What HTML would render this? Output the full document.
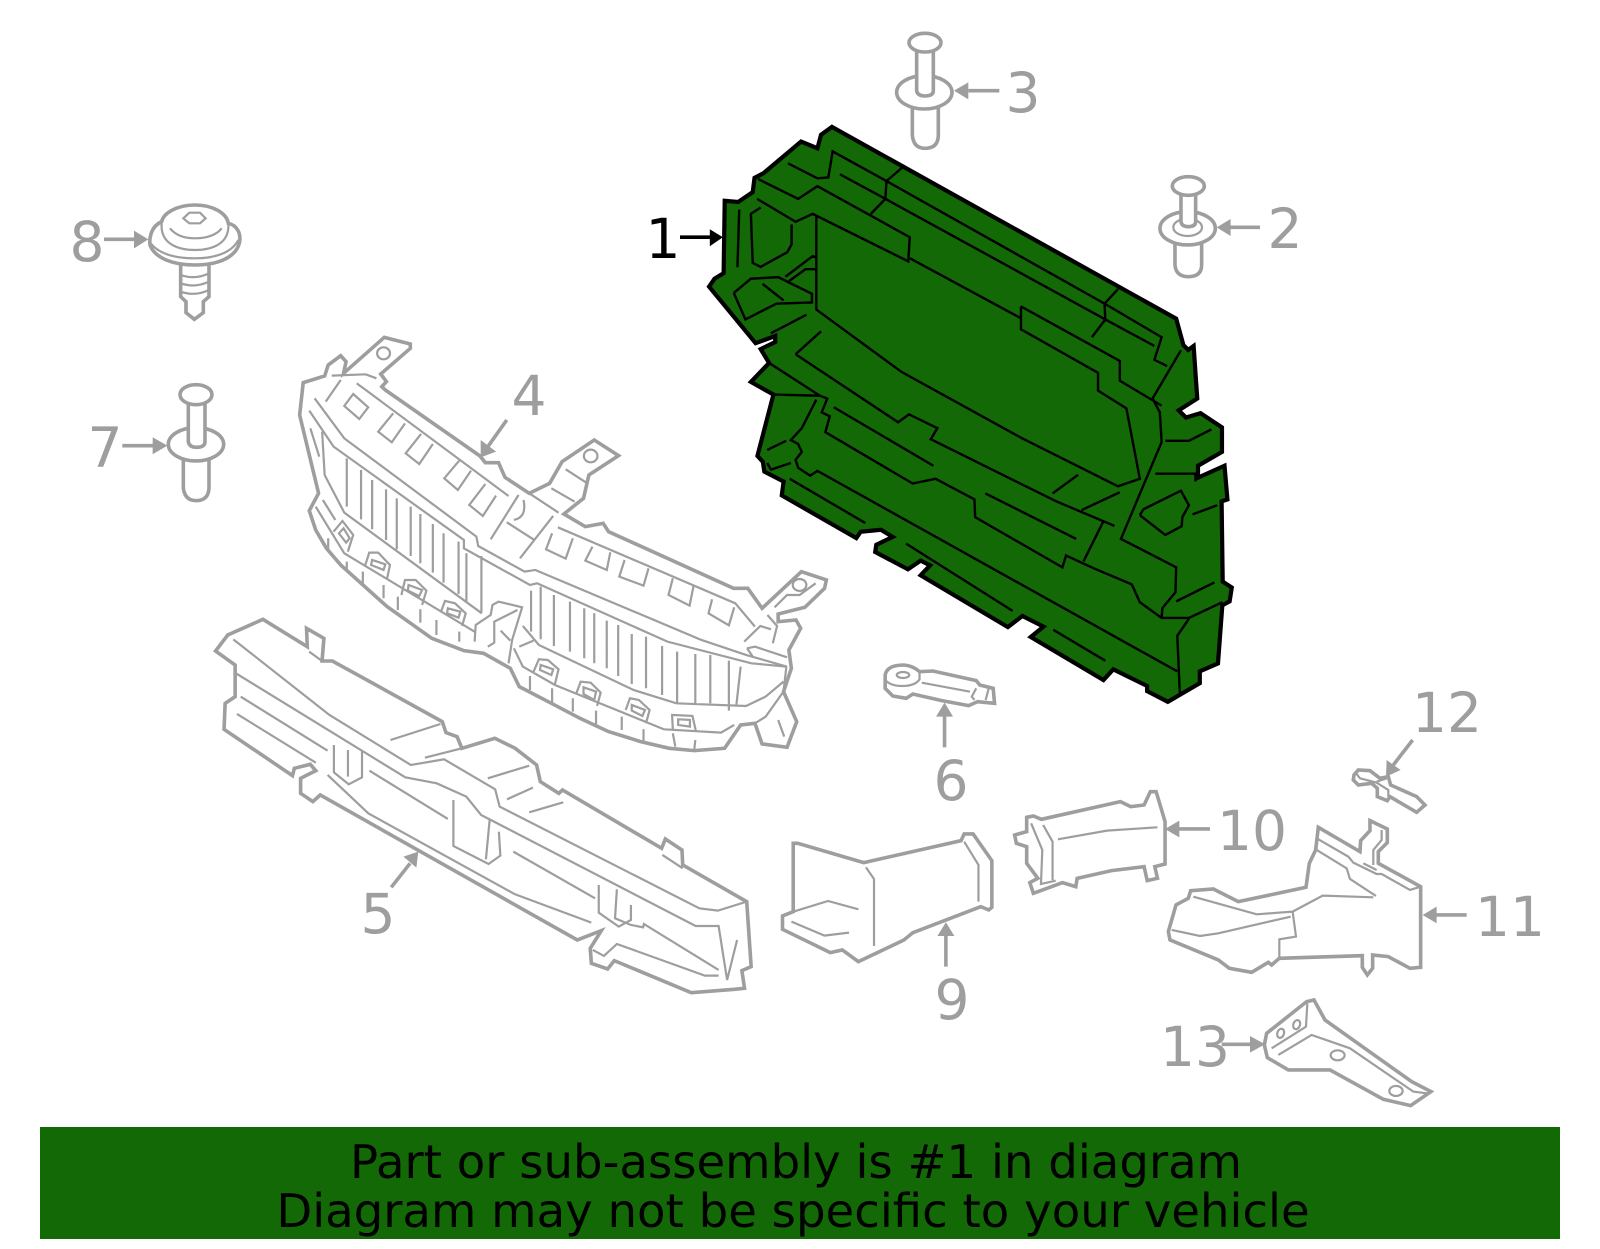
<!DOCTYPE html>
<html><head><meta charset="utf-8"><style>
html,body{margin:0;padding:0;background:#fff}
svg{display:block}
path,ellipse,circle{vector-effect:non-scaling-stroke;stroke-linejoin:miter}
.o{fill:#fff;stroke:#9e9e9e;stroke-width:3.6}
.i{fill:none;stroke:#9e9e9e;stroke-width:2.2}
.l{fill:none;stroke:#9e9e9e;stroke-width:3.6}
.h{fill:#9e9e9e;stroke:none}
.G{fill:#126905;stroke:#000;stroke-width:4.2}
.k{fill:none;stroke:#000;stroke-width:2.4}
text{font-family:"DejaVu Sans","Liberation Sans",sans-serif}
.t{font-size:55px;fill:#9e9e9e;text-anchor:middle}
.b{font-size:46.6px;fill:#000;text-anchor:middle}
</style></head><body>
<svg width="1600" height="1249" viewBox="0 0 1600 1249" xmlns="http://www.w3.org/2000/svg">
<rect width="1600" height="1249" fill="#fff"/>

<!-- Part 1 -->
<g transform="translate(680,100) scale(.3635,.3954)">
<path class="G" d="M418,68L1365,553L1385,620L1398,632L1413,622L1423,755L1372,785L1392,803L1432,792L1491,828L1491,890L1425,925L1425,955L1498,925L1506,1010L1490,1015L1493,1218L1518,1233L1512,1268L1492,1278L1480,1425L1430,1445L1430,1475L1342,1522L1285,1495L1285,1482L1192,1440L1165,1467L965,1358L1000,1332L942,1305L902,1333L662,1202L688,1177L662,1165L627,1187L537,1143L540,1125L585,1105L553,1087L497,1092L485,1108L280,1000L285,965L232,940L228,915L213,900L257,745L195,713L245,665L222,630L262,612L262,597L208,615L80,472L95,452L120,438L123,255L160,258L200,233L205,197L230,185L333,105L378,122L388,88Z"/>
<path class="k" d="M297,160L378,198L408,196L420,130L568,205L610,172M568,205L565,250L525,288M440,188L565,250M215,200L325,250L378,218L632,347L628,408L365,288L318,308L212,250M568,205L1168,515L1205,478M1168,515L1170,555L1133,600M565,250L1170,555L1305,622M1168,515L1325,600L1305,657L1340,673M632,400L938,552M938,522L1210,660L1210,710L1325,773M938,522L938,580L1150,690L1150,735L1228,780L1265,958L1205,977L940,855L610,688L375,530L375,295M222,272L195,288L200,412L222,422L295,385L307,365L307,315M163,277L158,423M290,447L365,395L378,400M300,458L345,428L375,428L375,530M148,488L195,452L270,448L363,490L363,512L265,515L180,555L148,488M227,465L285,507M250,590L348,543M318,643L388,585M318,643L600,815L630,795L708,830L690,858L1035,1015L1195,1077M245,665L385,748L257,745M385,748L405,755L390,790L412,800L400,840L640,970L703,958L810,1010L812,1055L1052,1182L1062,1152L1140,1185L1243,1225L1265,1270L1325,1310L1400,1310L1492,1270M423,777L697,925M375,758L335,830L305,860L325,870L335,890L318,910L325,930L358,950L378,938L1368,1445M240,885L292,862M240,918L250,935L305,918M302,958L510,1070M622,1122L915,1292M1027,1340L1170,1418M840,995L1090,1110M1025,995L1095,948M1105,1037L1210,992M1165,1065L1110,1167M1378,633L1300,755L1320,790L1325,865L1213,1110L1365,1182L1363,1245L1327,1285L1325,1310M1365,1268L1470,1220M1335,862L1400,862L1462,833M1308,945L1418,945L1418,965M1410,1048L1478,1025M1265,1050L1275,1035L1378,988L1400,1025L1382,1055L1380,1078L1335,1100L1265,1050M1400,1312L1368,1355L1375,1500"/>
<path d="M0,347L85,347" fill="none" stroke="#000" stroke-width="3.6"/>
<path d="M118,347L82,327L82,370Z" fill="#000"/>
</g>

<!-- Part 4 -->
<g transform="translate(280,320) scale(.3571,.3333)">
<path class="o" d="M295,210L560,408L575,428L612,428L630,472L698,520L755,490L790,425L880,360L948,407L865,465L850,535L795,582L855,620L905,610L920,635L1270,805L1310,805L1350,865L1460,755L1530,780L1525,805L1470,862L1395,882L1395,905L1445,900L1458,925L1425,990L1432,1045L1410,1115L1447,1205L1420,1282L1350,1272L1330,1210L1290,1215L1245,1285L1160,1292L1090,1285L1010,1265L920,1235L840,1195L760,1150L670,1100L645,1045L570,1000L515,992L425,955L300,860L170,735L130,685L100,630L82,572L108,520L55,285L65,188L125,168L135,135L170,107L185,125L178,160L292,52L365,72L365,85L282,162L298,185L285,200Z"/>
<path class="i" d="M145,167L240,163L270,175M170,180L128,245M215,190L640,528M97,235L180,355L550,650L555,678L685,755L715,750L1180,960L1305,1005L1420,1040M82,272L150,380L515,660L515,685L700,795L720,790L1085,965L1320,1030L1418,1040M85,325L110,410M118,335L125,465L180,578L565,880M100,560L180,700L545,935M120,540L155,600M187,415V560M227,450V598M258,480V628M297,508V660M327,535V688M366,560V708M393,582V730M428,612V758M458,640V788M500,665V822M522,700V845M564,708V880M205,222L247,262L222,297L180,258ZM317,280L275,335L313,367L350,310M395,342L352,400L390,432L428,372M505,418L460,475L498,510L535,452M575,492L530,555L568,588L605,527M668,525L590,658M765,588L672,715M635,607L712,660M682,540Q692,592 655,600M800,448L858,488M760,505L825,545M698,520L780,578M778,622L1275,850L1330,920M762,640L745,688L800,716L820,655M875,680L855,722L915,750L925,697M965,720L950,770L1018,797L1032,745M1100,775L1088,825L1147,857L1158,798M1210,838L1200,880L1257,916L1272,862M545,965L548,915L590,885L595,855L612,845L678,862L650,960L640,1030M582,980L600,968L600,905L665,870M618,932L645,962M670,980L710,962M680,918L725,975L990,1110L1110,1150L1305,1158L1360,1130L1410,1085M655,985L680,1040L770,1095L1075,1228L1235,1238L1272,1215M703,812V935M730,800V958M767,825V978M812,845V995M852,865V1015M880,880V1030M915,902V1045M947,915V1068M985,942V1092M1025,950V1105M1070,978V1125M1112,995V1152M1163,1002V1155M1205,1005V1150M1257,1022V1172M1290,1040L1278,1155M135,655V690M187,725V750M232,755V790M290,795V835M330,830V870M393,868V908M438,900V945M502,935V965M700,1068V1110M762,1105V1150M820,1135V1175M885,1172V1215M957,1190V1230M1018,1228V1265M1100,1240L1107,1280M1163,1260L1160,1290M150,635L175,603L205,645L190,695M238,738L250,698L275,698L308,735L300,775M258,720L295,733L290,750L255,735ZM340,825L350,780L380,780L410,812L398,855M360,795L398,810L390,828L358,812ZM450,878L462,843L490,850L520,880L510,918M470,865L505,875L500,893L468,880ZM165,640L178,625L195,655L185,668ZM708,1060L725,1018L750,1020L780,1048L770,1092M730,1035L765,1048L760,1065L728,1050ZM830,1120L842,1085L870,1088L898,1118L888,1158M850,1102L885,1115L880,1140L850,1122ZM968,1170L980,1135L1005,1140L1035,1170L1025,1210M985,1155L1022,1170L1015,1188L985,1172ZM1100,1228L1098,1185L1155,1188L1165,1235M1115,1198L1148,1200V1220L1115,1215ZM1300,965L1345,918L1375,928M1365,885L1392,918L1380,970M1308,985L1325,1012M1308,985L1330,980L1420,1012M1385,862L1420,825L1455,825L1500,790M1418,1040L1410,1115L1360,1190L1330,1210M1395,1200L1412,1250"/>
<ellipse class="i" cx="290" cy="100" rx="18" ry="18"/>
<ellipse class="i" cx="870" cy="408" rx="19" ry="19"/>
<ellipse class="i" cx="1455" cy="795" rx="19" ry="18"/>
<path class="l" d="M635,300L582,380"/>
<path class="h" d="M562,412L562,360L605,395Z"/>
</g>

<!-- Part 5 -->
<g transform="translate(200,600) scale(.3699,.3333)">
<path class="o" d="M170,58L290,140L288,85L335,115L330,183L358,183L655,365L665,398L695,410L708,445L797,415L852,445L910,495L920,545L970,580L980,570L1248,745L1258,717L1303,750L1305,795L1478,905L1490,1100L1465,1112L1472,1165L1445,1168L1328,1178L1120,1082L1102,1107L1058,1090L1055,1045L1085,992L1020,1020L325,585L305,605L272,580L272,535L313,512L298,493L255,505L250,527L65,388L68,310L95,290L95,195L42,153L75,105Z"/>
<path class="i" d="M90,118L350,345L570,495L660,478L798,568L810,620L1350,925L1400,932L1478,905M97,220L555,532L640,550L720,590L760,645L1340,978L1402,978L1425,1140L1452,1020M110,290L345,452M100,342L313,488M362,435L362,517L402,553L438,532L438,450M400,450V530M458,512L670,657M345,525L455,640L850,882L1058,968M685,600V738L780,792L812,767L808,695M783,660L773,778M847,755L1068,895M1078,855V938L1132,980L1165,960V915M1127,868L1122,955L1165,975L1198,982L1200,972L1402,1110M1062,1050L1092,1068L1127,1032L1365,1127L1402,1127M515,420L650,372M608,473L708,445M778,535L890,497M830,598L900,563M890,637L982,607M295,155L330,183M1250,765L1305,805"/>
<path class="l" d="M517,862L568,790"/>
<path class="h" d="M590,755L550,770L585,803Z"/>
</g>

<!-- Parts 6, 9, 10 -->
<g transform="translate(770,660) scale(.4464,.3333)">
<path class="o" d="M258,45Q262,15 300,15Q320,17 335,35L365,33L462,62L470,75L500,85L503,130L465,125L445,137L385,122L320,102L305,115L275,108L258,85Z"/>
<path class="i" d="M258,60Q270,78 295,78Q325,78 335,58V35M340,68L448,95M462,85L452,110L458,120M490,85L483,120"/>
<ellipse class="i" cx="298" cy="45" rx="14" ry="9"/>
<path class="l" d="M391,262V165"/>
<path class="h" d="M391,128L372,170H410Z"/>
<path class="o" d="M52,550H62L210,608L428,542L435,522H455L497,602V742L490,750L472,740L320,818L300,840L198,905L162,870L135,878L28,808V768L52,755Z"/>
<path class="i" d="M52,755L130,723L198,748M48,785L122,827L177,818M215,622L233,657V858M435,545L467,615V725"/>
<path class="l" d="M394,920V825"/>
<path class="h" d="M394,787L375,828H413Z"/>
<path class="o" d="M575,472L590,468L608,478L785,425L808,440L838,435L852,395H865L885,485V612L862,620L868,655L845,662L838,620L765,632L688,655L685,680L655,668L590,700L582,668L600,655L575,610V560L552,550L548,525L575,515Z"/>
<path class="i" d="M585,490L610,570L607,672L640,662M612,495L633,545V660M645,538L755,512L868,502"/>
</g>

<!-- Parts 11, 12, 13 -->
<g transform="translate(1150,680) scale(.3333)">
<path class="l" d="M180,447H85"/>
<path class="h" d="M45,447L88,422V472Z"/>
<path class="o" d="M505,442L630,515L632,482L660,452V422L712,447V488L685,515V550L812,620V862L780,865L715,830L668,825V865L652,885L637,862V827L388,835L365,855L355,847L305,877L238,865L205,840L60,780L55,755L78,675L115,655L122,632L190,627L265,665L468,622L478,550L497,510Z"/>
<path class="i" d="M500,475L595,530L610,548L680,582H695L780,630L812,620M500,510L590,565L600,597L678,648M640,550L680,570M670,555V510L695,480V450M130,650L320,703L428,695L518,647L670,652M428,695L438,770L388,778V835M422,710L205,760L150,768L65,750"/>
<path class="l" d="M950,705H855"/>
<path class="h" d="M818,705L860,680V730Z"/>
<path class="o" d="M612,285L625,270L660,272L690,295L715,290L722,315L800,350L825,375L800,397L720,350L712,362L682,350V325L665,310L625,315L610,300Z"/>
<path class="i" d="M620,282L630,295L680,308L715,330V350M680,305L710,295"/>
<path class="l" d="M788,180L730,255"/>
<path class="h" d="M708,290L710,240L752,270Z"/>
<path class="o" d="M350,1060L470,965L492,960L525,1020L785,1205L843,1235L782,1277L700,1258L540,1170H415L352,1133L343,1095Z"/>
<path class="i" d="M472,970L468,1040L365,1105M385,1125L485,1065L600,1105L790,1235L830,1240"/>
<ellipse class="i" cx="392" cy="1060" rx="10" ry="14" transform="rotate(20 392 1060)"/>
<ellipse class="i" cx="440" cy="1034" rx="10" ry="14" transform="rotate(20 440 1034)"/>
<ellipse class="i" cx="563" cy="1126" rx="21" ry="15"/>
<ellipse class="i" cx="738" cy="1233" rx="20" ry="15"/>
<path class="l" d="M215,1093H305"/>
<path class="h" d="M345,1093L300,1068V1118Z"/>
</g>

<!-- Parts 2, 3 -->
<g transform="translate(880,20) scale(.3333)">
<path class="o" d="M97,250V345Q100,385 135,385Q175,385 175,345V250Z"/>
<ellipse class="o" cx="133" cy="217" rx="83" ry="50"/>
<path class="o" d="M110,85V212Q112,228 135,228Q160,228 160,212V85Z"/>
<ellipse class="o" cx="135" cy="68" rx="48" ry="28"/>
<path class="l" d="M358,212H265"/>
<path class="h" d="M222,212L265,187V238Z"/>
<path class="o" d="M885,660V735Q888,770 925,770Q965,770 965,735V660Z"/>
<ellipse class="o" cx="923" cy="625" rx="83" ry="50"/>
<ellipse class="i" cx="923" cy="622" rx="43" ry="26"/>
<path class="o" d="M903,515V605Q905,620 925,620Q947,620 947,605V515Z"/>
<ellipse class="o" cx="925" cy="498" rx="48" ry="28"/>
<path class="l" d="M1140,622H1050"/>
<path class="h" d="M1010,622L1052,597V648Z"/>
</g>

<!-- Parts 7, 8 -->
<g transform="translate(60,190) scale(.3333)">
<path class="o" d="M370,800V895Q375,932 408,932Q445,932 447,895V800Z"/>
<ellipse class="o" cx="408" cy="763" rx="83" ry="50"/>
<path class="o" d="M385,630V755Q388,772 410,772Q435,772 435,755V630Z"/>
<ellipse class="o" cx="408" cy="614" rx="48" ry="30"/>
<path class="l" d="M187,767H280"/>
<path class="h" d="M322,767L278,742V793Z"/>
<path class="o" d="M362,210V320L378,335V368L403,388L430,368V335L447,320V210Z"/>
<path class="i" d="M362,255Q405,270 447,250M362,280Q405,295 447,275M362,305Q405,320 447,300"/>
<path class="o" d="M305,95C270,110 268,150 270,165C285,205 340,225 405,225C470,225 525,205 538,160C545,130 530,105 505,100C500,70 460,45 405,45C350,45 310,70 305,95Z"/>
<path class="i" d="M272,160C300,195 350,205 405,205C460,205 515,190 535,150M305,100C300,165 360,180 405,180C450,180 510,165 505,100M330,115C350,140 380,145 405,145C440,145 470,135 485,115M370,85L388,68H420L437,85L420,100H388Z"/>
<path class="l" d="M132,148H225"/>
<path class="h" d="M265,148L222,122V175Z"/>
</g>

<!-- Labels -->
<text class="t" x="663" y="258" style="fill:#000">1</text>
<text class="t" x="1285" y="248">2</text>
<text class="t" x="1023" y="112">3</text>
<text class="t" x="529" y="415">4</text>
<text class="t" x="378" y="933">5</text>
<text class="t" x="951" y="800">6</text>
<text class="t" x="105" y="467">7</text>
<text class="t" x="87" y="261">8</text>
<text class="t" x="952" y="1019">9</text>
<text class="t" x="1252" y="850">10</text>
<text class="t" x="1510" y="936">11</text>
<text class="t" x="1447" y="732">12</text>
<text class="t" x="1195" y="1066">13</text>

<!-- Banner -->
<rect x="40" y="1127" width="1520" height="112" fill="#126905"/>
<text class="b" x="796" y="1178">Part or sub-assembly is #1 in diagram</text>
<text class="b" x="793" y="1227">Diagram may not be specific to your vehicle</text>
</svg>
</body></html>
